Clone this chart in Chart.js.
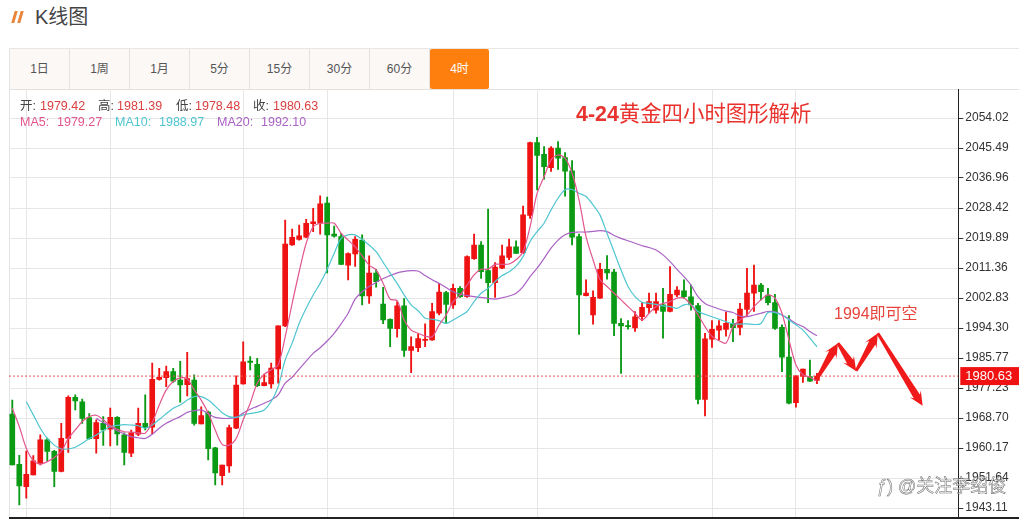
<!DOCTYPE html>
<html>
<head>
<meta charset="utf-8">
<title>K线图</title>
<style>
    html, body { margin: 0; padding: 0; background: #fff; }
    body { width: 1019px; height: 519px; position: relative; overflow: hidden;
        font-family: "Liberation Sans", "Noto Sans CJK SC", sans-serif; color: #444; }
    .abs { position: absolute; white-space: nowrap; }
    #bar1, #bar2 { position: absolute; top: 11px; width: 3px; height: 12px; background: #e8853a; transform: skewX(-16deg); }
    #bar1 { left: 13px; }
    #bar2 { left: 19px; }
    #title { left: 35px; top: 5px; font-size: 20px; line-height: 24px; color: #444; }
    #tabs { position: absolute; left: 9px; top: 48px; width: 1010px; height: 40px; border-top: 1px solid #e9e6e3; border-bottom: 1px solid #e4e1de; }
    .tab { position: absolute; top: 0; width: 59px; height: 40px; line-height: 40px; text-align: center; font-size: 12px;
        background: #fbf8f5; border-right: 1px solid #e6e2dd; color: #555; }
    .tab.on { background: #ff7f0e; color: #fff; border-right: 0; border-radius: 2px; width: 59px; }
    #leftline { position: absolute; left: 9px; top: 48px; width: 1px; height: 470px; background: #e4e4e4; }
    #bottomline { position: absolute; left: 9px; top: 517px; width: 1010px; height: 2px; background: #222; }
    canvas { position: absolute; left: 9px; top: 89px; }
    .info { font-size: 12.5px; line-height: 14px; }
    #headline { left: 576px; top: 102px; font-size: 21.4px; line-height: 24px; color: #e8332e; }
    #note { left: 834px; top: 304px; font-size: 16px; line-height: 20px; color: #e8453c; }
    #mark { left: 877px; top: 474px; font-size: 18px; line-height: 24px; color: rgba(255,255,255,.55);
        -webkit-text-stroke: 0.5px #6a6a6a; }
</style>
</head>
<body>
<div id="bar1"></div><div id="bar2"></div>
<div id="title" class="abs">K线图</div>
<div id="tabs"></div>
<div id="leftline"></div>

<canvas id="myChart" width="1010" height="430"></canvas>

<div id="infoBox"></div>
<div id="headline" class="abs"><b>4-24</b>黄金四小时图形解析</div>
<div id="note" class="abs">1994即可空</div>
<div id="mark" class="abs">ƒ)&nbsp;@关注李绍俊</div>
<div id="bottomline"></div>

<script src="https://cdn.jsdelivr.net/npm/chart.js@4"></script>
<script>
// valores, um candle por posicao
const opens = [
    1969.8, 1955.5, 1949.2, 1952.5, 1955.8, 1962.5, 1959.2, 1953.5, 1962.9, 1974.6,
    1973.3, 1968.8, 1962.8, 1967.2, 1965.5, 1968.9, 1963.9, 1958.7, 1964.1, 1967.2,
    1966.1, 1979.7, 1980.2, 1981.9, 1979.5, 1978.2, 1979.5, 1967.0, 1970.4, 1960.2,
    1952.3, 1955.1, 1965.8, 1978.4, 1984.9, 1984.0, 1977.9, 1978.4, 1982.7, 1994.9,
    2017.9, 2019.5, 2020.1, 2024.0, 2024.1, 2029.8, 2021.0, 2020.3, 2012.2, 2015.4,
    2019.3, 2003.4, 2009.9, 2001.1, 1996.8, 1994.1, 2000.6, 1987.9, 1988.7, 1990.8,
    1990.9, 1998.5, 2004.4, 2000.9, 2005.6, 2003.2, 2014.0, 2017.9, 2010.6, 2007.2,
    2011.3, 2014.4, 2017.4, 2015.7, 2026.3, 2047.0, 2043.7, 2039.9, 2045.5, 2042.8,
    2039.0, 2020.3, 2003.5, 1998.0, 2002.8, 2011.0, 2010.2, 1995.6, 1995.0, 1994.3,
    1997.5, 2000.1, 1999.4, 2000.9, 1999.0, 2003.7, 2004.9, 2003.2, 2000.7, 1974.0,
    1991.1, 1993.7, 1993.9, 1995.6, 1994.5, 1999.6, 2004.2, 2006.5, 2003.7, 2001.5,
    1994.5, 1986.0, 1973.1, 1980.5, 1980.5, 1979.42
];
const highs = [
    1973.8, 1958.1, 1959.3, 1958.0, 1963.9, 1963.0, 1959.5, 1967.2, 1975.0, 1975.3,
    1974.1, 1970.0, 1968.2, 1969.1, 1971.5, 1969.1, 1964.5, 1965.3, 1971.5, 1975.3,
    1984.3, 1982.8, 1983.5, 1982.8, 1984.8, 1987.4, 1981.0, 1971.9, 1970.7, 1960.4,
    1955.3, 1966.7, 1980.7, 1990.4, 1986.2, 1985.7, 1981.2, 1984.3, 1994.9, 2025.0,
    2022.4, 2023.6, 2025.2, 2028.3, 2031.9, 2031.5, 2023.3, 2021.2, 2015.7, 2020.3,
    2020.8, 2014.8, 2011.0, 2005.9, 1996.9, 2001.8, 2002.7, 1991.8, 1992.6, 1995.5,
    2001.3, 2007.0, 2004.7, 2006.8, 2006.1, 2014.8, 2021.0, 2018.9, 2028.1, 2012.9,
    2017.9, 2019.6, 2019.1, 2029.0, 2047.2, 2048.5, 2045.9, 2045.9, 2047.3, 2044.2,
    2041.9, 2021.0, 2008.0, 2004.9, 2012.7, 2014.9, 2011.0, 1997.0, 1996.4, 1999.0,
    2001.5, 2004.2, 2004.2, 2005.6, 2011.8, 2006.1, 2008.0, 2006.5, 2001.3, 1992.8,
    1996.4, 1996.4, 1998.8, 1996.8, 2001.3, 2011.3, 2012.2, 2007.0, 2005.6, 2003.9,
    1995.2, 1997.8, 1980.7, 1982.6, 1985.2, 1981.39
];
const lows = [
    1955.4, 1944.0, 1945.9, 1952.5, 1955.4, 1956.6, 1949.2, 1953.4, 1958.9, 1971.0,
    1967.2, 1962.7, 1958.7, 1960.9, 1960.8, 1961.0, 1955.4, 1957.7, 1963.7, 1965.3,
    1964.2, 1979.5, 1977.6, 1978.8, 1973.2, 1975.0, 1966.7, 1967.0, 1956.8, 1949.7,
    1949.7, 1953.2, 1965.7, 1978.3, 1982.4, 1977.6, 1977.8, 1977.2, 1978.6, 1994.7,
    2017.8, 2019.3, 2020.0, 2021.7, 2021.0, 2010.0, 2020.1, 2012.3, 2008.0, 2011.8,
    2000.9, 2001.3, 2005.9, 1995.5, 1989.0, 1991.7, 1986.2, 1981.6, 1987.6, 1989.0,
    1990.8, 1998.0, 1995.6, 1999.9, 2003.0, 2003.0, 2013.8, 2008.4, 2001.5, 2003.0,
    2011.2, 2013.7, 2015.5, 2015.5, 2025.5, 2033.6, 2036.6, 2038.8, 2039.4, 2031.8,
    2017.9, 1992.5, 2003.4, 1995.4, 2002.7, 2008.2, 1992.1, 1981.4, 1994.0, 1993.3,
    1996.4, 1998.5, 1998.5, 1991.4, 1998.9, 2003.2, 2002.7, 1999.4, 1972.7, 1969.3,
    1988.8, 1990.9, 1992.0, 1990.4, 1992.3, 1997.5, 1999.0, 2002.3, 2000.9, 1993.9,
    1981.9, 1972.7, 1971.8, 1978.8, 1979.1, 1978.48
];
const closes = [
    1955.4, 1949.4, 1952.7, 1956.5, 1962.5, 1959.2, 1953.5, 1962.9, 1974.6, 1973.6,
    1968.6, 1962.8, 1967.4, 1965.3, 1968.9, 1964.2, 1958.9, 1964.5, 1967.2, 1966.0,
    1979.7, 1980.3, 1981.9, 1979.2, 1978.1, 1979.9, 1967.2, 1969.4, 1960.0, 1953.1,
    1955.3, 1966.0, 1978.1, 1984.7, 1984.5, 1977.9, 1978.8, 1982.9, 1994.9, 2018.2,
    2020.1, 2020.5, 2024.1, 2024.5, 2029.6, 2020.8, 2020.4, 2012.4, 2015.5, 2019.5,
    2003.4, 2009.9, 2007.5, 1996.6, 1994.2, 2000.6, 1987.9, 1989.0, 1991.3, 1991.1,
    1999.0, 2004.5, 2001.0, 2005.6, 2003.2, 2014.6, 2017.9, 2010.3, 2007.2, 2011.6,
    2014.8, 2017.4, 2015.5, 2026.5, 2047.0, 2043.4, 2040.2, 2045.5, 2042.6, 2038.9,
    2020.1, 2003.7, 2004.2, 2003.0, 2011.0, 2010.0, 1995.6, 1994.9, 1994.7, 1997.5,
    2000.2, 2001.8, 2001.8, 1999.0, 2003.9, 2005.1, 2003.2, 2000.9, 1974.0, 1991.2,
    1993.9, 1994.9, 1995.6, 1994.4, 1999.7, 2004.2, 2006.5, 2004.6, 2001.5, 1994.2,
    1986.0, 1972.9, 1980.7, 1982.6, 1979.2, 1980.63
];
const ma5 = [
    1971.5, 1966.3, 1960.1, 1956.6, 1955.6, 1956.3, 1957.5, 1959.2, 1962.9, 1965.3,
    1967.7, 1969.1, 1969.5, 1968.2, 1966.5, 1965.5, 1964.8, 1964.7, 1964.5, 1964.4,
    1967.4, 1972.4, 1976.7, 1979.1, 1980.1, 1979.8, 1976.7, 1973.8, 1970.1, 1965.3,
    1961.2, 1961.0, 1962.9, 1968.2, 1972.9, 1978.6, 1981.1, 1982.4, 1983.8, 1991.8,
    2001.3, 2010.3, 2018.4, 2023.1, 2024.1, 2024.1, 2024.1, 2021.2, 2019.3, 2017.4,
    2014.8, 2012.2, 2010.8, 2007.0, 2002.5, 2002.1, 1996.6, 1993.7, 1992.8, 1992.0,
    1991.8, 1995.2, 1998.0, 2001.8, 2003.7, 2006.5, 2009.4, 2011.0, 2011.0, 2012.4,
    2012.4, 2012.5, 2013.7, 2016.0, 2023.1, 2032.6, 2037.3, 2042.1, 2043.5, 2042.6,
    2038.3, 2030.7, 2020.3, 2013.7, 2008.0, 2006.1, 2004.2, 2002.3, 2000.4, 1998.5,
    1996.6, 1998.5, 2000.4, 2001.3, 2001.8, 2002.8, 2002.8, 2000.9, 1998.0, 1994.7,
    1991.9, 1990.7, 1990.0, 1994.7, 1996.6, 1998.0, 2000.4, 2002.3, 2003.7, 2002.8,
    1998.5, 1990.9, 1983.8, 1981.0, 1980.3, 1979.27
];
const ma10 = [
    null, null, 1973.4, 1969.6, 1965.8, 1962.9, 1961.0, 1959.9, 1959.9, 1960.4,
    1961.5, 1962.9, 1963.9, 1965.1, 1966.3, 1966.6, 1966.8, 1966.7, 1966.5, 1965.8,
    1966.7, 1968.3, 1969.9, 1971.5, 1972.4, 1973.8, 1974.8, 1974.8, 1973.8, 1972.1,
    1970.2, 1969.1, 1968.9, 1969.6, 1970.0, 1970.3, 1971.0, 1973.4, 1977.6, 1985.2,
    1990.0, 1995.6, 1999.9, 2003.7, 2007.0, 2011.0, 2015.5, 2019.8, 2020.8, 2020.8,
    2019.5, 2017.9, 2016.0, 2013.0, 2009.9, 2007.0, 2003.7, 2000.9, 1999.2, 1997.1,
    1996.8, 1996.4, 1995.6, 1996.6, 1997.7, 1999.0, 2001.8, 2004.2, 2005.6, 2007.5,
    2009.2, 2010.3, 2011.9, 2014.6, 2018.9, 2021.7, 2024.1, 2027.9, 2031.2, 2033.6,
    2033.7, 2032.6, 2031.7, 2029.3, 2026.4, 2021.2, 2016.0, 2010.8, 2006.1, 2003.2,
    2001.6, 2001.3, 2001.0, 2000.6, 2000.4, 1999.9, 2000.9, 2000.9, 1999.0, 1998.2,
    1997.5, 1996.8, 1996.1, 1995.5, 1995.4, 1995.5, 1995.3, 1995.6, 1998.7, 1998.7,
    1998.0, 1996.6, 1995.2, 1993.7, 1991.4, 1988.97
];
const ma20 = [
    null, null, null, null, null, null, null, null, null, null,
    null, null, 1968.6, 1967.4, 1966.3, 1965.1, 1964.2, 1963.4, 1963.1, 1962.9,
    1964.1, 1965.8, 1967.2, 1968.2, 1969.1, 1970.3, 1970.8, 1971.0, 1969.9, 1968.9,
    1968.6, 1968.6, 1968.9, 1970.1, 1971.2, 1972.0, 1972.9, 1973.8, 1975.3, 1978.6,
    1980.3, 1982.6, 1984.9, 1987.1, 1988.7, 1990.6, 1992.8, 1995.5, 1998.5, 2002.5,
    2004.6, 2006.1, 2007.3, 2008.4, 2009.2, 2010.0, 2010.4, 2010.6, 2010.5, 2009.2,
    2008.0, 2007.0, 2005.8, 2004.6, 2003.9, 2003.5, 2003.2, 2003.0, 2002.7, 2002.5,
    2002.9, 2003.4, 2004.2, 2006.1, 2008.9, 2011.3, 2014.1, 2017.0, 2019.3, 2020.8,
    2021.5, 2021.6, 2021.6, 2021.8, 2022.0, 2021.7, 2020.6, 2019.8, 2019.1, 2018.4,
    2017.7, 2017.2, 2016.5, 2015.1, 2013.2, 2011.0, 2008.9, 2006.5, 2003.2, 2001.3,
    2000.4, 1999.7, 1999.1, 1998.7, 1997.7, 1997.5, 1998.0, 1998.5, 1999.0, 1998.9,
    1998.0, 1996.9, 1995.6, 1994.7, 1993.3, 1992.10
];

const yTickValues = [2054.02, 2045.49, 2036.96, 2028.42, 2019.89, 2011.36, 2002.83, 1994.30,
    1985.77, 1977.23, 1968.70, 1960.17, 1951.64, 1943.11];
const gridCandles = [2, 14, 33, 45, 63, 75, 100, 112];
const lastPrice = 1980.63;
// setas desenhadas a mao por cima do grafico
const arrowCandle = [114.9, 118.0, 120.6, 123.7, 130.1];
const arrowPrice = [1979.5, 1990.0, 1982.1, 1992.8, 1972.2];

const tabLabels = ['1日', '1周', '1月', '5分', '15分', '30分', '60分', '4时'];

const colorUp = '#ef1212';
const colorDown = '#0a9a14';
const colorMa5 = '#e2568f';
const colorMa10 = '#4fc6d0';
const colorMa20 = '#aa62c4';

const monitor = {

    init() {
        this.create_tabs();
        this.create_info();
        this.create_graph();
    },

    create_tabs: function () {
        const box = document.getElementById('tabs');
        tabLabels.forEach(function (item, index) {
            const el = document.createElement('div');
            el.className = 'tab' + (item === '4时' ? ' on' : '');
            el.style.left = (item === '4时' ? 421 : index * 60 + 1) + 'px';
            el.textContent = item;
            box.appendChild(el);
        });
    },

    // linhas de texto acima do grafico
    create_info: function () {
        const items = [
            ['开:', 20, 99, '#444'], ['1979.42', 40, 99, '#d9403f'],
            ['高:', 98, 99, '#444'], ['1981.39', 117, 99, '#d9403f'],
            ['低:', 176, 99, '#444'], ['1978.48', 195, 99, '#d9403f'],
            ['收:', 253, 99, '#444'], ['1980.63', 273, 99, '#d9403f'],
            ['MA5:', 20, 115, colorMa5], ['1979.27', 57, 115, colorMa5],
            ['MA10:', 115, 115, colorMa10], ['1988.97', 159, 115, colorMa10],
            ['MA20:', 217, 115, colorMa20], ['1992.10', 261, 115, colorMa20]
        ];
        const box = document.getElementById('infoBox');
        items.forEach(function (item) {
            const el = document.createElement('div');
            el.className = 'abs info';
            el.textContent = item[0];
            el.style.left = item[1] + 'px';
            el.style.top = item[2] + 'px';
            el.style.color = item[3];
            box.appendChild(el);
        });
    },

    points: function (values) {
        return values.map(function (v, i) { return { x: i, y: v }; }).filter(function (p) { return p.y !== null; });
    },

    create_graph: function () {
        const ctx = document.getElementById('myChart').getContext('2d');
        const candleColors = closes.map(function (c, i) { return c >= opens[i] ? colorUp : colorDown; });

        const bodies = closes.map(function (c, i) { return { x: i, y: [opens[i], c] }; });
        const wicks = highs.map(function (h, i) { return { x: i, y: [lows[i], h] }; });

        const xMin = -0.47;
        const xMax = 135.2;

        // seta afinada: fina na origem, grossa perto da ponta
        const arrowPlugin = {
            id: 'arrows',
            afterDatasetsDraw(chart) {
                const c = chart.ctx;
                const sx = chart.scales.x;
                const sy = chart.scales.y;
                c.save();
                c.fillStyle = '#f01a1a';
                for (let i = 0; i < arrowCandle.length - 1; i++) {
                    const x0 = sx.getPixelForValue(arrowCandle[i]);
                    const y0 = sy.getPixelForValue(arrowPrice[i]);
                    const x1 = sx.getPixelForValue(arrowCandle[i + 1]);
                    const y1 = sy.getPixelForValue(arrowPrice[i + 1]);
                    const len = Math.hypot(x1 - x0, y1 - y0);
                    const ux = (x1 - x0) / len;
                    const uy = (y1 - y0) / len;
                    const nx = -uy;
                    const ny = ux;
                    const neck = len - 11;
                    const pt = function (along, side) {
                        return [x0 + ux * along + nx * side, y0 + uy * along + ny * side];
                    };
                    const shape = [pt(0, 1.4), pt(neck, 3.6), pt(neck - 3, 6.5), pt(len, 0), pt(neck - 3, -6.5), pt(neck, -3.6), pt(0, -1.4)];
                    c.beginPath();
                    shape.forEach(function (p, k) { k ? c.lineTo(p[0], p[1]) : c.moveTo(p[0], p[1]); });
                    c.closePath();
                    c.fill();
                }
                c.restore();
            },
            // etiqueta vermelha do ultimo preco
            afterDraw(chart) {
                const c = chart.ctx;
                const y = chart.scales.y.getPixelForValue(lastPrice);
                c.save();
                c.fillStyle = '#f01212';
                c.fillRect(chart.chartArea.right + 2, y - 9, 60, 18);
                c.fillStyle = '#fff';
                c.font = '13px "Liberation Sans"';
                c.textBaseline = 'middle';
                c.fillText(lastPrice.toFixed(2), chart.chartArea.right + 7, y + 0.5);
                c.restore();
            }
        };

        this.myChart = new Chart(ctx, {
            type: 'bar',
            data: {
                datasets: [
                    { type: 'line', label: 'last', data: [{ x: xMin, y: lastPrice }, { x: xMax, y: lastPrice }],
                        borderColor: '#e8595c', borderWidth: 1, borderDash: [2, 2], pointRadius: 0, order: 0 },
                    { type: 'line', label: 'MA5', data: this.points(ma5), borderColor: colorMa5, borderWidth: 1.2,
                        pointRadius: 0, tension: 0.3, order: 1 },
                    { type: 'line', label: 'MA10', data: this.points(ma10), borderColor: colorMa10, borderWidth: 1.2,
                        pointRadius: 0, tension: 0.3, order: 1 },
                    { type: 'line', label: 'MA20', data: this.points(ma20), borderColor: colorMa20, borderWidth: 1.2,
                        pointRadius: 0, tension: 0.3, order: 1 },
                    { label: 'corpo', data: bodies, backgroundColor: candleColors, barThickness: 5, minBarLength: 1,
                        grouped: false, order: 2 },
                    { label: 'pavio', data: wicks, backgroundColor: candleColors, barThickness: 1.2,
                        grouped: false, order: 3 }
                ]
            },
            options: {
                responsive: false,
                animation: false,
                layout: { padding: { left: 0, right: 0, top: 0, bottom: 1 } },
                plugins: { legend: { display: false }, tooltip: { enabled: false } },
                scales: {
                    x: {
                        type: 'linear',
                        min: xMin,
                        max: xMax,
                        offset: false,
                        bounds: 'data',
                        afterBuildTicks: function (scale) {
                            scale.ticks = gridCandles.map(function (v) { return { value: v }; });
                        },
                        ticks: { display: false, autoSkip: false },
                        grid: { color: '#e6e6e6', drawTicks: false, offset: false },
                        border: { display: false }
                    },
                    y: {
                        position: 'right',
                        min: 1940.27,
                        max: 2062.27,
                        bounds: 'data',
                        afterBuildTicks: function (scale) {
                            scale.ticks = yTickValues.map(function (v) { return { value: v }; });
                        },
                        afterFit: function (scale) {
                            // sem isso o layout encolhe a area por causa dos rotulos
                            scale.width = 60.7;
                            scale.paddingTop = 0;
                            scale.paddingBottom = 0;
                        },
                        ticks: {
                            autoSkip: false,
                            padding: 2,
                            color: '#333',
                            font: { family: '"Liberation Sans"', size: 12 },
                            callback: function (v) { return Number(v).toFixed(2); }
                        },
                        grid: { color: '#e6e6e6', tickColor: '#333', tickLength: 5 },
                        border: { color: '#222', width: 1 }
                    }
                }
            },
            plugins: [arrowPlugin]
        });
    }
};

monitor.init();
</script>
</body>
</html>
